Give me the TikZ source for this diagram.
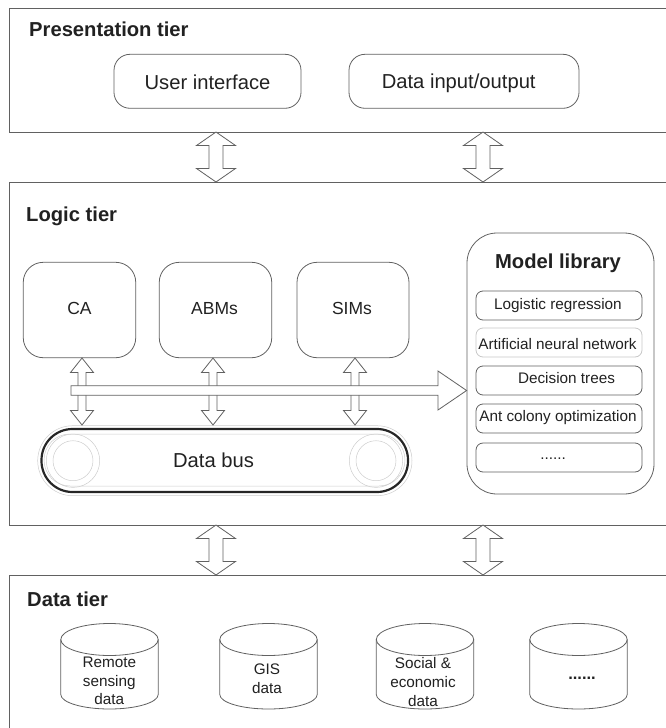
\documentclass[tikz,border=0pt]{standalone}
\usepackage{fontspec}
\setmainfont{Liberation Sans}
\usetikzlibrary{calc}
\definecolor{ln}{gray}{0.38}
\definecolor{tx}{gray}{0.13}
\newcommand\dblarrow[5]{% top, bottom, head half width, head length, shaft half width
  \draw[arrowline] (#1) -- ($(#1)+(#3,#4)$) -- ($(#1)+(#5,#4)$) -- ($(#2)+(#5,-#4)$) -- ($(#2)+(#3,-#4)$) -- (#2)
   -- ($(#2)+(-#3,-#4)$) -- ($(#2)+(-#5,-#4)$) -- ($(#1)+(-#5,#4)$) -- ($(#1)+(-#3,#4)$) -- cycle;}
\newcommand\drum[2]{% centre of top ellipse, name
  \coordinate (#2) at (#1);
  \draw[thinline,fill=white] ($(#2)+(-48.7,0)$) -- ($(#2)+(-48.7,55)$)
    arc[start angle=180,end angle=360,x radius=48.7pt,y radius=14.5pt] -- ($(#2)+(48.7,0)$);
  \draw[thinline] (#2) ellipse[x radius=48.7pt,y radius=16pt];}
\tikzset{
  x=1pt,y=-1pt,
  thinline/.style={draw=ln,line width=0.8pt},
  tierline/.style={draw=ln,line width=1pt},
  arrowline/.style={draw=ln,line width=0.8pt,fill=white,line join=miter},
  rbox/.style={thinline,rounded corners=#1,inner sep=0pt},
  rbox/.default=16pt,
  tiertitle/.style={anchor=base west,inner sep=0pt,font=\fontsize{20.2}{24}\selectfont\bfseries,text=tx},
  bigtext/.style={anchor=base,font=\fontsize{20.2}{24}\selectfont,text=tx,inner sep=0pt},
  midtext/.style={anchor=base,font=\fontsize{17.5}{21}\selectfont,text=tx,inner sep=0pt},
  libbox/.style={thinline,rounded corners=7pt,minimum width=166pt,minimum height=29pt,inner sep=0pt},
  libtext/.style={anchor=base,inner sep=0pt,font=\fontsize{15.3}{18}\selectfont,text=tx},
  drumtext/.style={font=\fontsize{15.3}{18.6}\selectfont,text=tx,inner sep=0pt,align=center},
  lightline/.style={draw=black!20,line width=0.5pt},
}
\begin{document}
\begin{tikzpicture}
\useasboundingbox (0,0) rectangle (666,728);
% tiers
\draw[tierline] (666,8.3) -- (9.3,8.3) -- (9.3,132) -- (666,132);
\draw[tierline] (666,182) -- (9.3,182) -- (9.3,525) -- (666,525);
\draw[tierline] (666,575) -- (9.3,575) -- (9.3,728);
\node[tiertitle] (ptitle) at (29,36.7) {Presentation tier};
\node[tiertitle] (ltitle) at (26,221) {Logic tier};
\node[tiertitle] (dtitle) at (27,606) {Data tier};
% presentation
\node[rbox,minimum width=187pt,minimum height=54pt] (ui) at (207.5,81.3) {};
\node[bigtext] (uit) at (207.5,89) {User interface};
\node[rbox,minimum width=230pt,minimum height=54pt] (dio) at (464,81.3) {};
\node[bigtext] (diot) at (458.7,88.3) {Data input/output};
% inter-tier arrows
\coordinate (a1t) at (216,132); \coordinate (a1b) at (216,182);
\coordinate (a2t) at (483,132); \coordinate (a2b) at (483,182);
\coordinate (a3t) at (216,525); \coordinate (a3b) at (216,575);
\coordinate (a4t) at (483,525); \coordinate (a4b) at (483,575);
\dblarrow{a1t}{a1b}{19.5}{13.5}{7}
\dblarrow{a2t}{a2b}{19.5}{13.5}{7}
\dblarrow{a3t}{a3b}{19.5}{13.5}{7}
\dblarrow{a4t}{a4b}{19.5}{13.5}{7}
% models
\node[rbox=20pt,minimum width=112.5pt,minimum height=95.4pt] (ca) at (79.5,310) {};
\node[rbox=20pt,minimum width=112.5pt,minimum height=95.4pt] (abm) at (215.5,310) {};
\node[rbox=20pt,minimum width=112pt,minimum height=95.4pt] (sim) at (353,310) {};
\node[midtext] (cat) at (79.5,314) {CA};
\node[midtext] (abmt) at (214.5,314) {ABMs};
\node[midtext] (simt) at (352,314) {SIMs};
% data bus
\draw[lightline,rounded corners=35pt] (37.7,425.7) rectangle (412,495.7);
\draw[lightline,rounded corners=26pt] (44,434) rectangle (405,486);
\draw[draw=black!85,line width=2.2pt,rounded corners=31pt] (41.5,429) rectangle (408,492);
\coordinate (w1) at (73,460.7); \coordinate (w2) at (376,460.7);
\draw[lightline] (w1) circle[radius=26.7pt] (w1) circle[radius=20pt];
\draw[lightline] (w2) circle[radius=26.7pt] (w2) circle[radius=20pt];
\node[bigtext] (bus) at (213.5,467.3) {Data bus};
% vertical double arrows
\coordinate (v1t) at (82,358); \coordinate (v1b) at (82,425);
\coordinate (v2t) at (213,358); \coordinate (v2b) at (213,425);
\coordinate (v3t) at (355,358); \coordinate (v3b) at (355,425);
\dblarrow{v1t}{v1b}{11.5}{14.5}{4}
\dblarrow{v2t}{v2b}{11.5}{14.5}{4}
\dblarrow{v3t}{v3b}{11.5}{14.5}{4}
% model library
\node[rbox=30pt,minimum width=187pt,minimum height=261pt] (lib) at (560.5,363.5) {};
\node[anchor=base,inner sep=0pt,font=\fontsize{20.2}{24}\selectfont\bfseries,text=tx] (libt) at (558,268.3) {Model library};
\node[libbox] (m1) at (559,305.5) {};
\node[libbox,draw=black!22] (m2) at (559,342.5) {};
\node[libbox] (m3) at (559,380.5) {};
\node[libbox] (m4) at (559,418.5) {};
\node[libbox] (m5) at (559,457.5) {};
\node[libtext] (m1t) at (558,309.3) {Logistic regression};
\node[libtext] (m2t) at (557.5,349) {Artificial neural network};
\node[libtext] (m3t) at (566.5,383.3) {Decision trees};
\node[libtext] (m4t) at (558,421.7) {Ant colony optimization};
\node[libtext] (m5t) at (553,459.3) {......};
% horizontal arrow into library
\coordinate (hs) at (71,390.5);
\draw[arrowline] (hs) ++(0,-4.7) -- (438,385.8) -- (438,371) -- (lib.west |- hs) -- (438,410) -- (438,395.2) -- (71,395.2) -- cycle;
% data cylinders
\drum{109.5,639.5}{d1}
\drum{268.5,639.5}{d2}
\drum{425,639.5}{d3}
\drum{578.5,639.5}{d4}
\node[drumtext] (t1) at (109.3,681) {Remote\\sensing\\data};
\node[drumtext] (t2) at (267,679) {GIS\\data};
\node[drumtext] (t3) at (423,682) {Social \&\\economic\\data};
\node[anchor=base,inner sep=0pt,font=\fontsize{16.5}{18}\selectfont\bfseries,text=tx] (t4) at (582,679.3) {......};
\end{tikzpicture}
\end{document}
